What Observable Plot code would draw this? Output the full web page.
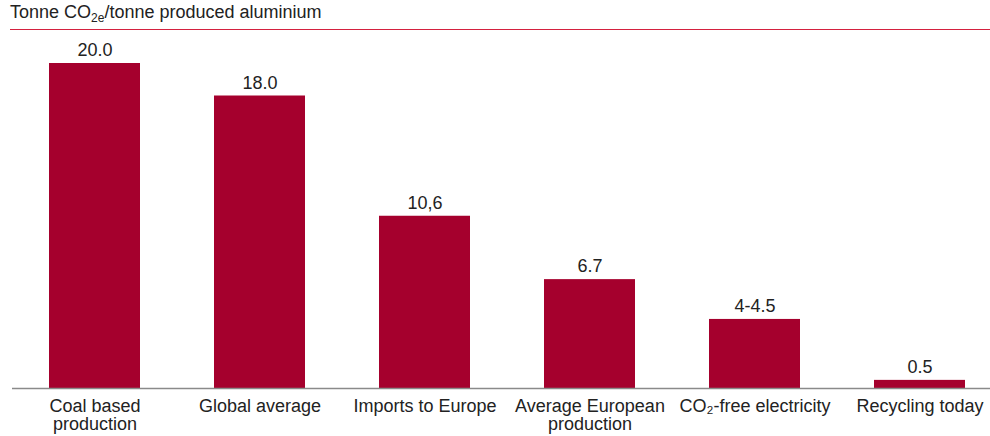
<!DOCTYPE html>
<html>
<head>
<meta charset="utf-8">
<script src="https://cdn.jsdelivr.net/npm/d3@7"></script>
<script src="https://cdn.jsdelivr.net/npm/@observablehq/plot@0.6"></script>
<style>
  html, body { margin: 0; padding: 0; background: #fff; }
  body { width: 990px; height: 436px; overflow: hidden; font-family: "Liberation Sans", Arial, sans-serif; }
  #title { position: relative; height: 30px; margin-left: 10px; border-bottom: 1px solid #d4213f; box-sizing: border-box; }
  #title span { position: absolute; left: 0px; top: 2px; font-size: 18px; color: #222; white-space: nowrap; }
  #title sub { font-size: 12px; vertical-align: -4px; line-height: 0; }
  #chart svg { display: block; }
</style>
</head>
<body>
<div id="title"><span>Tonne CO<sub>2e</sub>/tonne produced aluminium</span></div>
<div id="chart"></div>
<script>
const categories = ["Coal based\nproduction", "Global average", "Imports to Europe", "Average European\nproduction", "CO₂-free electricity", "Recycling today"];
const values = [20.0, 18.0, 10.6, 6.7, 4.25, 0.5];
const valueLabels = ["20.0", "18.0", "10,6", "6.7", "4-4.5", "0.5"];

const data = categories.map((c, i) => ({category: c, value: values[i], label: valueLabels[i]}));

const chart = Plot.plot({
  width: 990,
  height: 405,
  marginLeft: 12,
  marginRight: 0,
  marginTop: 0,
  marginBottom: 47,
  style: {fontFamily: "'Liberation Sans', Arial, sans-serif", fontSize: "18px", color: "#222", background: "#fff"},
  x: {domain: categories, range: [12, 1002], paddingInner: 0.45, paddingOuter: 0.218, label: null},
  y: {domain: [0, 20], range: [358, 33], axis: null},
  marks: [
    Plot.barY(data, {x: "category", y: "value", fill: "#a5002d"}),
    Plot.ruleY([0], {stroke: "#8a8a8a", strokeWidth: 1.5}),
    Plot.text(data, {x: "category", y: "value", text: "label", dy: -13, fill: "#222", fontSize: 18}),
    Plot.axisX({tickSize: 0, tickPadding: 10, fontSize: 18, lineHeight: 1.02, fill: "#222", label: null})
  ]
});
document.getElementById("chart").appendChild(chart);
</script>
</body>
</html>
